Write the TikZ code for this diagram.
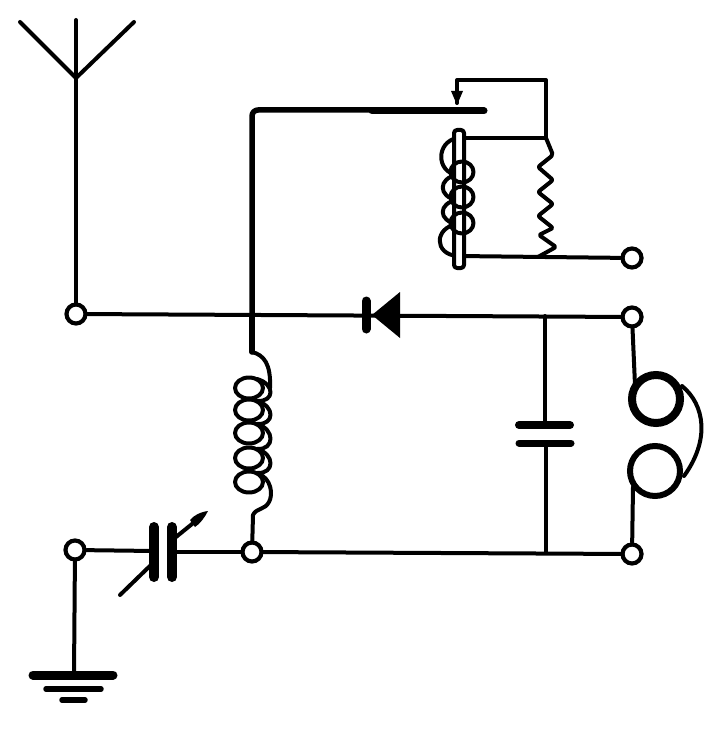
\documentclass[tikz,border=0pt]{standalone}
\usepackage{tikz}

\begin{document}
\begin{tikzpicture}[x=1pt, y=-1pt,
    terminal/.style={circle, draw, fill=white, line width=4.2pt, minimum size=19pt, inner sep=0pt},
    wire/.style={line width=4pt, line cap=round, line join=round},
    heavy/.style={line width=5.5pt, line cap=round, line join=round},
    plate/.style={line width=8pt, line cap=round}]
    \useasboundingbox (0,0) rectangle (717,730);
    % terminals
    \node[terminal] (aerial)  at (76,314)  {};
    \node[terminal] (earth)   at (75,550)  {};
    \node[terminal] (coilend) at (252,552) {};
    \node[terminal] (relay)   at (632,258) {};
    \node[terminal] (phoneA)  at (632,317) {};
    \node[terminal] (phoneB)  at (632,554) {};
    \coordinate (top)   at (76,78);
    \coordinate (join)  at (252,315);
    \coordinate (cjoinA) at (545,316);
    \coordinate (cjoinB) at (546,552);
    \coordinate (gnd)   at (74,675);
    \coordinate (rtop)  at (546,138);
    \coordinate (rend)  at (538,257);
    % aerial
    \draw[wire] (aerial) -- (top);
    \draw[wire] (top) -- (20,22);
    \draw[wire] (top) -- (76,20);
    \draw[wire] (top) -- (134,22);
    % main lines
    \draw[wire] (aerial) -- (phoneA);
    \draw[wire] (earth) -- (gnd);
    \draw[wire] (coilend) -- (phoneB);
    \draw[wire] (cjoinA) -- (545,425);
    \draw[wire] (546,443) -- (cjoinB);
    \draw[plate] (519,425) -- (570,425);
    \draw[plate, line width=7pt] (519,443) -- (571,443);
    % diode
    \fill (372,315) -- (400,292) -- (400,338) -- cycle;
    \draw[line width=9pt, line cap=round] (366,301) -- (366,329);
    % tapped coil
    \draw[heavy, rounded corners=6pt] (join) -- (252,110) -- (372,110);
    \draw[line width=7pt, line cap=round] (372,111) -- (484,111);
    \draw[heavy] (join) -- (252,352);
    \draw[wire] (252,352) .. controls (264,355) and (271,364) .. (270,388);
    \foreach \y in {388,410,433,458,482} {
        \draw[wire] (249,\y) ellipse (14 and 10.5);
    }
    \foreach \y/\n in {388/410,410/433,433/458,458/482} {
        \draw[wire] (257,\y-9) .. controls (275,\y-4) and (275,\n-8) .. (257,\n-9);
    }
    \draw[wire] (257,473) .. controls (272,478) and (273,495) .. (269,502)
        .. controls (265,510) and (256,508) .. (253,515) -- (coilend);
    % relay
    \draw[wire] (457,103) -- (457,80) -- (546,80) -- (rtop) -- (458,138);
    \fill (451,91) -- (463,91) -- (457,105) -- cycle;
    \draw[wire] (458,256) -- (relay);
    \draw[wire] (457,138) .. controls (436,142) and (436,172) .. (457,175)
        .. controls (438,178) and (438,197) .. (457,200)
        .. controls (438,203) and (438,221) .. (457,224)
        .. controls (434,228) and (434,254) .. (457,256);
    \draw[wire, fill=white, rounded corners=3pt] (454,130) rectangle (464,268);
    \foreach \y in {172,197,223}
        \draw[wire] (462,\y) ellipse (11.5 and 10.5);
    \draw[wire, rounded corners=2pt] (rtop) -- (553,155) -- (538,167) -- (553,180) -- (538,192)
        -- (553,204) -- (538,216) -- (553,228) -- (539,235) -- (556,247) -- (rend);
    % phones
    \draw[wire] (phoneA) -- (635,385);
    \draw[wire] (633,487) -- (phoneB);
    \draw[line width=8pt] (656,399) circle (24);
    \draw[line width=6pt] (655,471) circle (25);
    \draw[wire] (682,386) .. controls (705,405) and (710,440) .. (684,476);
    % variable condenser
    \draw[wire] (earth) -- (154,551);
    \draw[wire] (172,552) -- (coilend);
    \draw[wire] (120,595) -- (154,562);
    \draw[wire] (176,537) -- (197,520);
    \fill (208,511) .. controls (200,512) and (193,516) .. (190,520)
        -- (195,527) .. controls (200,524) and (205,517) .. (208,511) -- cycle;
    \draw[plate, line width=10pt] (154,527) -- (154,577);
    \draw[plate, line width=10pt] (172,527) -- (172,577);
    % earth plates
    \draw[plate, line width=9pt] (33,675) -- (113,675);
    \draw[plate, line width=5.5pt] (46,689) -- (101,689);
    \draw[plate, line width=5.5pt] (62,700) -- (85,700);
\end{tikzpicture}
\end{document}
